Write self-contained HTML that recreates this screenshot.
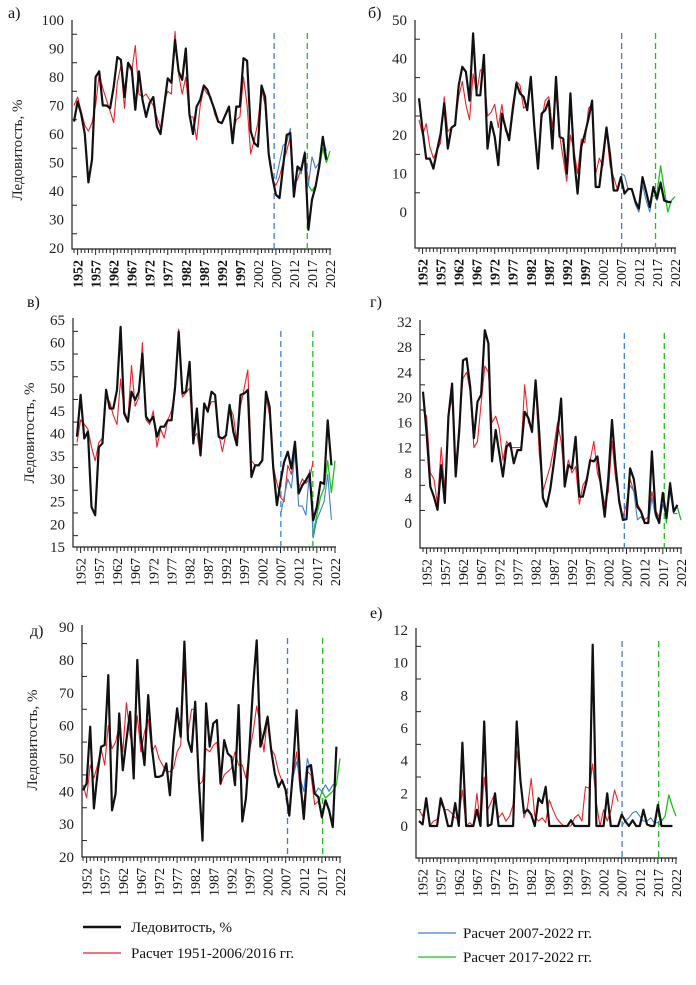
<!DOCTYPE html>
<html><head><meta charset="utf-8"><style>
html,body{margin:0;padding:0;background:#fff;width:696px;height:985px;overflow:hidden}
svg{display:block;font-family:"Liberation Serif",serif}
</style></head><body>
<svg id="chart" width="696" height="985" viewBox="0 0 696 985"></svg>
<script>
const years = [];
for (let y = 1951; y <= 2022; y++) years.push(y);
const yearLabels = ['1952','1957','1962','1967','1972','1977','1982','1987','1992','1997','2002','2007','2012','2017','2022'];

const aTicks = [20,30,40,50,60,70,80,90,100];
const aBlack = [64.4,71.4,67,60,43,51,80,82,70,70,69,76.6,87,86,73,85,83,68.5,82,72,66,71,73,62.6,60,69.6,79.5,78,93,82,79,90,67,60,69.6,72,77,75.5,72,68.5,64.4,63.8,66.7,69.6,56.8,69.6,69.6,86.6,85.7,61,56.8,55.6,77,73,53,45,38.7,37.5,48.6,59.7,60.3,38,48.6,47.4,53.3,26.4,37,41.6,48.6,59,51];
const aRed = [70,73,68,63,61,64,70,81,76,72,68,64,78,84,69,84,82,91,74,73,74,72,70,66,62,71,75,74,96,81,74,80,66,66,58,70,76,74,73,67,64,64,67,69,60,65,66,80,70,53,58,64,76,70,52,44,42,45,50,54,59,42,44,48,52,44];
const aBlue = [44,50,56,57,62,42,48,46,54,42,52,48,50,58,54];
const aGreen = [42,40,42,48,55,50,54];

const bTicks = [0,10,20,30,40,50];
const bBlack = [29.6,21.3,13.9,13.9,11.3,16,20.4,28.3,16.5,22,22.6,33,37.8,36.5,29,46.5,30.4,30.4,40.9,16.5,23.5,19.6,12.2,25.6,22,18.7,26.5,33.5,30.9,30,26.5,35.2,22,11.3,25.6,26.5,29,16.5,35.2,19.6,19.1,10,30.9,14.3,4.8,17,20.4,24.3,29,6.5,6.5,14.3,22,14.8,5.6,5.6,9.1,4.8,6,6,2.8,0.9,9.1,5.2,1.3,6.5,3.5,7.6,3,2.6,2.6];
const bRed = [24,20,23,17,14,16,18,30,21,22,23,30,34,28,24,36,31,37,37,25,26,28,22,28,21,20,28,34,33,27,28,34,21,13,24,29,30,22,31,20,14,8,20,16,10,19,18,27,28,10,14,12,21,12,9,6];
const bBlue = [10,9.5,6,6,2,0,7,3,0,6,3,8,3,3];
const bGreen = [4,5,12,6,0,3,4];

const vTicks = [15,20,25,30,35,40,45,50,55,60,65];
const vBlack = [39.3,48.5,38.9,40.4,23.8,22,37,37.8,49.6,45.5,45.5,49.6,63.5,44.4,42.6,49.2,47.4,49.2,57.6,43.7,42.6,43.7,39.3,41.5,41.5,42.9,42.9,50.3,62.4,48.8,49.2,55.8,37.8,45.5,35.2,46.6,44.8,49.2,48.5,39.3,38.9,39.6,46.3,40.4,37.4,48.5,48.8,49.6,30.4,33,33,34.1,49.2,45.9,32.6,24.2,29.3,33.7,36,32.3,38.2,26.8,28.6,29.7,31.2,20.9,23.8,29.3,28.9,42.9,33];
const vRed = [38,43,42,41,37,34,38,39,48,47,44,42,52,45,43,55,46,48,60,43,42,45,37,41,39,43,45,49,63,48,49,50,39,40,35,46,45,47,47,40,36,40,46,44,38,46,50,54,34,33,33,34,48,44,33,29,26,25,33,31,36,28,30,29,30,34];
const vBlue = [22,26,30,28,36,24,24,22,32,17,21,23,25,31,21];
const vGreen = [18,22,26,28,34,27,34];

const gTicks = [0,4,8,12,16,20,24,28,32];
const gBlack = [20.9,14.3,5.8,4.2,2.1,9.2,3.2,16.9,22.2,7.4,14.8,25.9,26.2,21.7,13.5,19.3,20.4,30.7,28.6,9.8,14.8,11.1,7.4,12.2,12.7,9.5,11.6,11.6,17.7,16.7,14.5,22.7,14.3,4,2.6,5.3,9.5,14.3,19.8,5.8,9.2,8.7,13.7,4.2,4.2,6.6,10,9.8,10.6,5.8,1,7.1,16.4,9,3.4,0.5,0.6,8.7,7,2.6,1.8,0,0,11.4,1.6,0,4.8,0.8,6.3,1.8,2.9];
const gRed = [18,17,8,7,3,12,5,17,20,9,16,23,24,21,12,13,19,25,24,16,17,15,10,13,12,12,12,12,22,16,15,22,11,5,7,9,12,16,13,7,10,8,9,3,6,7,10,13,8,6,3,5,13,7,4,1,3,7,5,3,2,0.5,1,5,2,1];
const gBlue = [3,6,5,0.5,1,0,0,4,1,0,3,1,5,1.5,1.5];
const gGreen = [0,4.5,0,6.5,2,2.5,0.5];

const dTicks = [20,30,40,50,60,70,80,90];
const dBlack = [40.3,42.4,59.7,34.8,45.4,53.6,54.1,75.4,34.2,39.3,63.7,46.4,55.6,64.2,43.9,80,56.6,48,69.3,53.6,44.4,44.4,44.9,48.5,38.8,54.6,65.3,56.6,85.6,55.6,52,67.3,43.4,25,66.8,53.6,60.7,61.7,42.4,55.6,51.5,50.5,41.9,66.3,30.8,37.8,53.6,71.9,86,53.6,57.6,62.7,52.5,45.4,41.3,43.4,40.3,32.6,45.9,64.7,43.4,31.6,47.4,48,39.3,38.3,32.1,37.3,34.2,29.1,53.6];
const dRed = [42,38,48,44,48,53,48,60,53,55,60,52,67,57,52,63,52,58,62,52,54,50,48,46,46,47,52,54,79,58,65,65,42,43,53,52,54,55,42,45,46,47,52,48,48,44,52,58,66,60,52,63,53,51,46,43,40,34,44,52,40,36,46,45,36,37];
const dBlue = [38,33,44,49,44,40,50,46,39,41,40,42,40,42,42];
const dGreen = [36,40,38,39,40,42,50];

const eTicks = [0,2,4,6,8,10,12];
const eBlack = [0.3,0.1,1.7,0,0,0,1.7,1,0,0,1.4,0,5.1,0,0,0,1,0,6.4,0,0.1,2,0,0,0,0,0,6.4,2.8,0.8,1,0.7,0,1.7,1.4,2.4,0,0,0,0,0,0,0.35,0,0,0,0,0,11.1,0,0,0,2,0,0,0,0.7,0.3,0,0.35,0,0,1,0.1,0,0,1.3,0,0,0,0];
const eRed = [1,0.6,1.4,0,0.3,0.4,1.4,1,1,0.8,0.5,0.5,2.2,0,0.2,0,2,0,3,1,1.5,2,0.5,0.8,0.3,0.6,1.3,4.6,3,0.5,1.2,2.9,0.6,0.3,0.5,0.2,1.6,1,0.5,0.2,0,0,0,0.5,0.7,0.3,2.4,2.3,3.8,1.4,0,1,0.3,0.9,2.2,1.5];
const eBlue = [0,0.3,0.5,0.8,0.9,0.6,0.3,0.3,0.5,0.2,0.2,0,0,0,0];
const eGreen = [0,1.3,0.3,0.6,1.9,1.2,0.6];

const NS = 'http://www.w3.org/2000/svg';
const svg = document.getElementById('chart');
function mk(tag, attrs, parent) {
  const el = document.createElementNS(NS, tag);
  for (const k in attrs) el.setAttribute(k, attrs[k]);
  (parent || svg).appendChild(el);
  return el;
}

const panels = [
  {id:'a', letter:'а)', lx:8, ly:18, x0:74, x1:330, vA:100, yA:20, vB:20, yB:248, left:72, bottom:249, top:20, ticks:aTicks, step:10, dash:[2006.5,2015.7], bold:true, ytitle:[22,150], s:[aBlack,aRed,aBlue,aGreen], start:[1951,1951,2007,2016]},
  {id:'b', letter:'б)', lx:368, ly:18, x0:419, x1:675, vA:50, yA:20, vB:0, yB:212, left:415, bottom:248, top:20, ticks:bTicks, step:10, dash:[2007.2,2016.6], bold:true, ytitle:null, s:[bBlack,bRed,bBlue,bGreen], start:[1951,1951,2007,2016]},
  {id:'v', letter:'в)', lx:27, ly:307, x0:77, x1:335, vA:65, yA:320, vB:15, yB:547, left:73, bottom:547, top:318, ticks:vTicks, step:5, dash:[2007.1,2015.9], bold:false, ytitle:[34,433], s:[vBlack,vRed,vBlue,vGreen], start:[1951,1951,2007,2016]},
  {id:'g', letter:'г)', lx:370, ly:307, x0:423, x1:681, vA:32, yA:322, vB:0, yB:523, left:420, bottom:548, top:320, ticks:gTicks, step:4, dash:[2006.4,2017.4], bold:false, ytitle:null, s:[gBlack,gRed,gBlue,gGreen], start:[1951,1951,2007,2016]},
  {id:'d', letter:'д)', lx:30, ly:636, x0:83, x1:340, vA:80, yA:660, vB:20, yB:857, left:82, bottom:857, top:625, ticks:dTicks, step:10, dash:[2007.5,2017.2], bold:false, ytitle:[37,740], s:[dBlack,dRed,dBlue,dGreen], start:[1951,1951,2007,2016]},
  {id:'e', letter:'е)', lx:370, ly:618, x0:419, x1:676, vA:12, yA:630, vB:0, yB:826, left:416, bottom:858, top:628, ticks:eTicks, step:2, dash:[2007.1,2017.2], bold:false, ytitle:null, s:[eBlack,eRed,eBlue,eGreen], start:[1951,1951,2007,2016]}
];
const colors = ['#111','#e8232a','#3f7fd0','#1fbf1f'];
const widths = [2.2,1.1,1.1,1.3];
const sNames = ['observed-ice-cover-line','calc-1951-2006-line','calc-2007-2022-line','calc-2017-2022-line'];

panels.forEach(p => {
  const g = mk('g', {});
  
  
  const xs = yr => p.x0 + (yr - 1951) * (p.x1 - p.x0) / 71;
  const ys = v => p.yA + (p.vA - v) * (p.yB - p.yA) / (p.vA - p.vB);

  const lt = mk('text', {x:p.lx, y:p.ly, 'font-size':16, fill:'#111'}, g);
  lt.textContent = p.letter;
  
  

  const ax = mk('path', {d:`M${p.left},${p.top}V${p.bottom}H${xs(2022)+1}`, stroke:'#222', 'stroke-width':1.2, fill:'none'}, g);
  
  

  p.ticks.forEach(t => {
    const ty = ys(t);
    const tl = mk('text', {x:p.left - 8, y:ty + 5, 'font-size':15, 'text-anchor':'end', fill:'#222'}, g);
    tl.textContent = t;
    
    
    const mt = ys(t + p.step / 2);
    if (mt > p.top + 2) mk('line', {x1:p.left, x2:p.left + 5, y1:mt, y2:mt, stroke:'#222', 'stroke-width':1}, g);
  });

  years.forEach(yr => {
    const tx = xs(yr);
    mk('line', {x1:tx, x2:tx, y1:p.bottom, y2:p.bottom + ((yr - 1952) % 5 === 0 ? 6 : 4), stroke:'#222', 'stroke-width':1}, g);
  });
  yearLabels.forEach(lab => {
    const tx = xs(+lab) + 5;
    const ty = p.bottom + 11;
    const yt = mk('text', {x:tx, y:ty, 'font-size':14, 'text-anchor':'end', transform:`rotate(-90 ${tx} ${ty})`, fill:'#111', 'font-weight': (p.bold && +lab < 2000) ? 'bold' : 'normal'}, g);
    yt.textContent = lab;
    
    
  });

  if (p.ytitle) {
    const [tx, ty] = p.ytitle;
    const tt = mk('text', {x:tx, y:ty, 'font-size':15, 'text-anchor':'middle', transform:`rotate(-90 ${tx} ${ty})`, fill:'#222'}, g);
    tt.textContent = 'Ледовитость, %';
    
    
  }

  const dcol = ['#3f7fd0', '#1fbf1f'];
  p.dash.forEach((d, i) => {
    const dl = mk('line', {x1:xs(d), x2:xs(d), y1:p.top + 13, y2:p.bottom, stroke:dcol[i], 'stroke-width':1.3, 'stroke-dasharray':'6,4'}, g);
    
    
  });

  [1, 2, 3, 0].forEach(si => {
    const arr = p.s[si];
    const pts = arr.map((v, i) => xs(p.start[si] + i).toFixed(1) + ',' + ys(v).toFixed(1)).join(' ');
    const pl = mk('polyline', {points:pts, fill:'none', stroke:colors[si], 'stroke-width':widths[si], 'stroke-linejoin':'round'}, g);
    
    
  });
});

const legend = [
  [83, 927, 0, 'Ледовитость, %'],
  [83, 953, 1, 'Расчет 1951-2006/2016 гг.'],
  [418, 933, 2, 'Расчет 2007-2022 гг.'],
  [418, 957, 3, 'Расчет 2017-2022 гг.']
];
legend.forEach(([lx, ly, si, txt]) => {
  const lg = mk('g', {});
  
  
  mk('line', {x1:lx, x2:lx + 38, y1:ly, y2:ly, stroke:colors[si], 'stroke-width':si === 0 ? 2.5 : 1.2}, lg);
  const t = mk('text', {x:lx + (si >= 2 ? 45 : 48), y:ly + 5, 'font-size':15, fill:'#111'}, lg);
  t.textContent = txt;
});
</script>
</body></html>
